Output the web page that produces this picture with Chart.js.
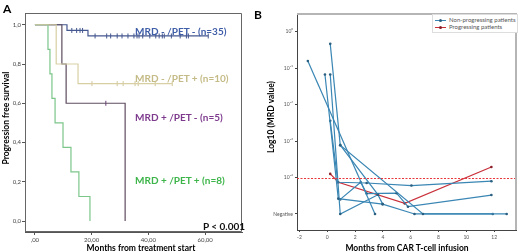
<!DOCTYPE html>
<html>
<head>
<meta charset="utf-8">
<script src="https://cdn.jsdelivr.net/npm/chart.js@4.4.0/dist/chart.umd.min.js"></script>
<style>
body { margin: 0; background: #fff; }
#wrap { position: relative; width: 520px; height: 252px; overflow: hidden; font-family: Lato, "Open Sans", sans-serif; }
canvas { position: absolute; top: 0; }
.t { position: absolute; white-space: nowrap; line-height: 1; }
.c { transform: translate(-50%, -50%); }
.r { transform: translate(-50%, -50%) rotate(-90deg); }
.lg { position: absolute; left: 432px; top: 14px; width: 84px; height: 17px; border: 1px solid #ddd; background: #fff; font-size: 6px; color: #555; }
.lg div { position: relative; height: 6px; margin-top: 1.5px; padding-left: 16px; line-height: 6px; }
.lg i { position: absolute; left: 2px; top: 3px; width: 11px; height: 1px; }
.lg b { position: absolute; left: 6px; top: 2px; width: 3px; height: 3px; border-radius: 50%; }
</style>
</head>
<body>
<div id="wrap">
  <canvas id="km" width="258" height="252" style="left:0"></canvas>
  <canvas id="mrd" width="262" height="252" style="left:258px"></canvas>

  <div class="t" style="left:3px;top:3px;font-size:12px;font-weight:bold;">A</div>
  <div class="t r" style="left:6px;top:118px;font-size:8.5px;font-weight:bold;">Progression free survival</div>
  <div class="t c" style="left:141px;top:248px;font-size:8.5px;font-weight:bold;">Months from treatment start</div>
  <div class="t" style="left:135px;top:26px;font-size:10px;font-weight:bold;color:#3f5ea8;">MRD - /PET - (n=35)</div>
  <div class="t" style="left:135px;top:73px;font-size:10px;font-weight:bold;color:#c4bb86;">MRD - /PET + (n=10)</div>
  <div class="t" style="left:135px;top:112px;font-size:10px;font-weight:bold;color:#7e3b8e;">MRD + /PET - (n=5)</div>
  <div class="t" style="left:135px;top:175px;font-size:10px;font-weight:bold;color:#3db54a;">MRD + /PET + (n=8)</div>
  <div class="t" style="left:203px;top:221px;font-size:10px;font-weight:bold;color:#111;">P &lt; 0.001</div>

  <div class="t" style="left:254px;top:9px;font-size:12px;font-weight:bold;">B</div>
  <div class="t r" style="left:271px;top:117px;font-size:8.5px;font-weight:bold;">Log10 (MRD value)</div>
  <div class="t c" style="left:407px;top:248px;font-size:8.5px;font-weight:bold;">Months from CAR T-cell infusion</div>
  <div class="lg">
    <div><i style="background:#3a86b4"></i><b style="background:#2a5f80"></b>Non-progressing patients</div>
    <div><i style="background:#c8303a"></i><b style="background:#8a1f28"></b>Progressing patients</div>
  </div>
</div>

<script>
// ---- Panel A: Kaplan-Meier curves (months, survival) ----
const kmBlueT = [0, 11.3, 18.7, 61.1];
const kmBlueS = [1, 0.971, 0.943, 0.943];
const kmTanT = [0, 7.5, 15.2, 48.4];
const kmTanS = [1, 0.8, 0.7, 0.7];
const kmPurpleT = [0, 9.5, 11.0, 31.8];
const kmPurpleS = [1, 0.8, 0.6, 0];
const kmGreenT = [0, 4.6, 5.3, 6.0, 7.1, 9.9, 12.7, 15.5, 19.4];
const kmGreenS = [1, 0.875, 0.75, 0.625, 0.5, 0.375, 0.25, 0.125, 0];

// censored observations (months)
const censorBlue = [13.0, 14.7, 15.9, 16.8, 21.2, 25.3, 26.7, 29.0, 30.7, 32.8, 34.9, 36.0, 36.7,
                    38.0, 40.5, 42.6, 43.8, 44.9, 45.6, 48.1, 51.2, 53.4, 54.1, 61.1];
const censorTan = [20.1, 29.0, 31.1, 35.3, 36.4, 42.4, 48.4];
const censorPurple = [25.0];

const kmXTicks = [0, 20, 40, 60];
const kmYTicks = [0, 0.2, 0.4, 0.6, 0.8, 1.0];

// ---- Panel B: MRD over time (months, log10 MRD; -5 = negative) ----
const nonProgMonths = [
    [-1.4, 3.43],
    [0.21, 0.93, 6.88, 12.9],
    [-0.17, 0.79, 3.98, 6.27, 11.9],
    [0.21, 0.93, 3.64],
    [0.21, 0.76, 2.83, 6.05, 11.8],
    [0.93, 2.4, 2.83, 4.98, 5.8, 11.8],
    [0.93, 3.64, 3.98]
];
const nonProgLog = [
    [-0.80, -5.0],
    [-0.33, -3.11, -5.0, -5.0],
    [-1.17, -4.58, -4.73, -5.0, -5.0],
    [-1.17, -5.0, -4.47],
    [-2.44, -4.13, -4.15, -4.22, -4.1],
    [-4.6, -4.13, -4.44, -4.43, -4.8, -4.48],
    [-3.11, -4.47, -4.73]
];
const progMonths = [0.21, 0.79, 5.57, 11.8];
const progLog = [-3.9, -4.13, -4.71, -3.71];

const mrdXTicks = [-2, 0, 2, 4, 6, 8, 10, 12];
const mrdYTicks = [0, -1, -2, -3, -4, -5];
const mrdYLabels = ["10\u2070", "10\u207B\u00B9", "10\u207B\u00B2", "10\u207B\u00B3", "10\u207B\u2074", "Negative"];
const mrdThreshold = -4;

function survivalAt(T, S, t) {
    let s = S[0];
    for (let i = 0; i < T.length; i++) if (T[i] <= t) s = S[i];
    return s;
}

function pairs(xs, ys) {
    return xs.map((x, i) => ({ x: x, y: ys[i] }));
}

function kmLine(T, S, color) {
    return {
        type: "line", data: pairs(T, S), borderColor: color, borderWidth: 1.2,
        stepped: true, pointRadius: 0, fill: false
    };
}

function censorSet(times, T, S, color) {
    return {
        type: "scatter", data: times.map(t => ({ x: t, y: survivalAt(T, S, t) })),
        pointStyle: "line", rotation: 90, radius: 2.5, borderColor: color, borderWidth: 1
    };
}

const framePlugin = {
    id: "frame",
    afterDatasetsDraw(chart, args, opts) {
        const a = chart.chartArea, ctx = chart.ctx;
        ctx.save();
        if (opts.threshold !== undefined) {
            const y = Math.round(chart.scales.y.getPixelForValue(opts.threshold)) + 0.5;
            ctx.strokeStyle = "#e8363c";
            ctx.lineWidth = 1;
            ctx.setLineDash([2, 1.5]);
            ctx.beginPath(); ctx.moveTo(a.left, y); ctx.lineTo(a.right, y); ctx.stroke();
            ctx.setLineDash([]);
        }
        ctx.strokeStyle = opts.color;
        ctx.lineWidth = opts.width;
        ctx.beginPath();
        if (opts.full) {
            ctx.rect(a.left + 0.5, a.top + 0.5, a.right - a.left - 1, a.bottom - a.top - 1);
        } else {
            ctx.moveTo(a.left, a.top); ctx.lineTo(a.right, a.top); ctx.lineTo(a.right, a.bottom);
        }
        ctx.stroke();
        ctx.restore();
    }
};

Chart.defaults.font.family = "Lato, 'Open Sans', sans-serif";
Chart.defaults.animation = false;

new Chart(document.getElementById("km"), {
    type: "line",
    data: {
        datasets: [
            kmLine(kmTanT, kmTanS, "#d8cfa4"),
            kmLine(kmGreenT, kmGreenS, "#7cc68a"),
            kmLine(kmPurpleT, kmPurpleS, "#5e4c60"),
            kmLine(kmBlueT, kmBlueS, "#44578f"),
            censorSet(censorTan, kmTanT, kmTanS, "#cfc598"),
            censorSet(censorPurple, kmPurpleT, kmPurpleS, "#6a3f78"),
            censorSet(censorBlue, kmBlueT, kmBlueS, "#44578f")
        ]
    },
    options: {
        responsive: false,
        layout: { padding: { left: 0, right: 16, top: 13, bottom: 0 } },
        plugins: {
            legend: { display: false }, tooltip: { enabled: false },
            frame: { color: "#666", width: 1, full: true }
        },
        scales: {
            x: {
                type: "linear", min: -3.5, max: 73,
                afterFit: s => { s.height = 20; },
                afterBuildTicks: s => { s.ticks = kmXTicks.map(v => ({ value: v })); },
                grid: { display: true, drawOnChartArea: false, tickLength: 3, color: "#555" },
                border: { color: "#555" },
                ticks: {
                    font: { size: 6 }, color: "#444", padding: 1, maxRotation: 0,
                    callback: v => v === 0 ? ",00" : v.toFixed(2).replace(".", ",")
                }
            },
            y: {
                type: "linear", min: -0.056, max: 1.06,
                afterFit: s => { s.width = 25; },
                afterBuildTicks: s => { s.ticks = kmYTicks.map(v => ({ value: v })); },
                grid: { display: true, drawOnChartArea: false, tickLength: 3, color: "#555" },
                border: { color: "#555" },
                ticks: {
                    font: { size: 6 }, color: "#444", padding: 1,
                    callback: v => v.toFixed(1).replace(".", ",")
                }
            }
        }
    },
    plugins: [framePlugin]
});

const mrdSets = nonProgMonths.map((xs, i) => ({
    type: "line", data: pairs(xs, nonProgLog[i]),
    borderColor: "#3a86b4", borderWidth: 1.2, pointRadius: 1.3,
    pointBackgroundColor: "#2a5f80", pointBorderWidth: 0, fill: false
}));
mrdSets.push({
    type: "line", data: pairs(progMonths, progLog),
    borderColor: "#c8303a", borderWidth: 1.2, pointRadius: 1.3,
    pointBackgroundColor: "#8a1f28", pointBorderWidth: 0, fill: false
});

new Chart(document.getElementById("mrd"), {
    type: "line",
    data: { datasets: mrdSets },
    options: {
        responsive: false,
        layout: { padding: { left: 0, right: 2, top: 14, bottom: 0 } },
        plugins: {
            legend: { display: false }, tooltip: { enabled: false },
            frame: { color: "#b5b5b5", width: 2, full: false, threshold: mrdThreshold }
        },
        scales: {
            x: {
                type: "linear", min: -2.18, max: 13.57,
                afterFit: s => { s.height = 22; },
                afterBuildTicks: s => { s.ticks = mrdXTicks.map(v => ({ value: v })); },
                grid: { display: true, drawOnChartArea: false, tickLength: 2, color: "#444" },
                border: { color: "#444" },
                ticks: { font: { size: 5 }, color: "#555", padding: 2, maxRotation: 0 }
            },
            y: {
                type: "linear", min: -5.44, max: 0.49,
                afterFit: s => { s.width = 39; },
                afterBuildTicks: s => { s.ticks = mrdYTicks.map(v => ({ value: v })); },
                grid: { display: true, drawOnChartArea: false, tickLength: 2, color: "#444" },
                border: { color: "#444" },
                ticks: {
                    font: { size: 5 }, color: "#555", padding: 2,
                    callback: v => mrdYLabels[mrdYTicks.indexOf(v)]
                }
            }
        }
    },
    plugins: [framePlugin]
});
</script>
</body>
</html>
